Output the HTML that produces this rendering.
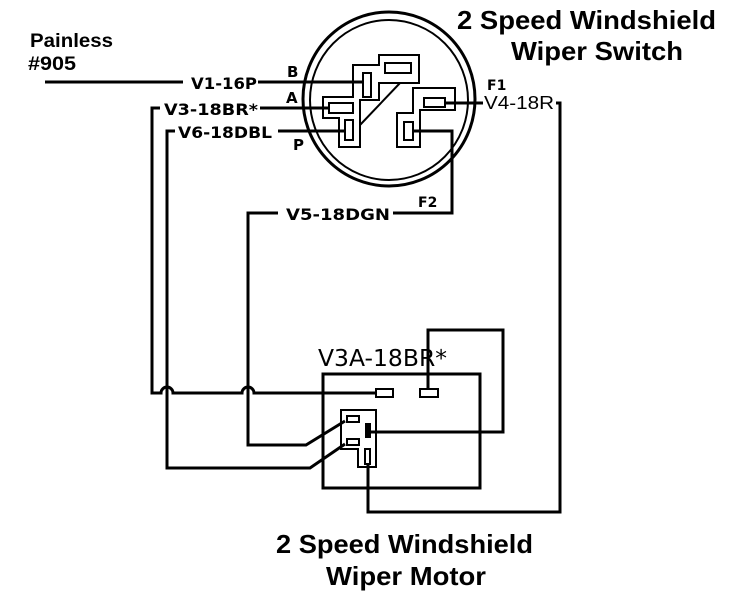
<!DOCTYPE html>
<html><head><meta charset="utf-8"><style>
html,body{margin:0;padding:0;background:#fff}
svg{display:block}
.t{font-family:"Liberation Sans",sans-serif;font-weight:bold;fill:#000}
.l{font-family:"DejaVu Sans",sans-serif;font-weight:bold;fill:#000}
</style></head><body>
<svg width="729" height="600" viewBox="0 0 729 600" xmlns="http://www.w3.org/2000/svg">
<rect width="729" height="600" fill="#fff"/>
<g fill="none" stroke="#000" stroke-width="3">
<ellipse cx="389" cy="99" rx="86" ry="87"/>
<ellipse cx="389" cy="100" rx="79" ry="80" stroke-width="2"/>
<g stroke-width="2">
<path d="M353,65 H379 V55 H419 V83 H379 V100 H360 V147 H339 V118 H323 V97 H353 Z"/>
<line x1="400" y1="83" x2="360" y2="125"/>
<rect x="363" y="73" width="8" height="24"/>
<rect x="385" y="63" width="26" height="10"/>
<rect x="329" y="103" width="24" height="10"/>
<rect x="345" y="120" width="8" height="20"/>
<path d="M413,88 H455 V110 H420 V147 H397 V113 H413 Z"/>
<rect x="424" y="98" width="21" height="9"/>
<rect x="404" y="122" width="9" height="18"/>
</g>
<line x1="45" y1="82" x2="183" y2="82"/>
<line x1="258" y1="82" x2="363" y2="82"/>
<path d="M160,108 H152 V393 H161 A6,6 0 0 1 173,393 H242 A6,6 0 0 1 254,393 H376"/>
<line x1="260" y1="108" x2="329" y2="108"/>
<line x1="278" y1="131" x2="345" y2="131"/>
<path d="M413,131 H452 V213 H393"/>
<path d="M278,213 H248 V445 H306 L345,421"/>
<path d="M175,131 H167 V468 H310 L345,444"/>
<path d="M445,103 H483"/>
<path d="M556,103 H560 V512 H368 V464"/>
<path d="M428,390 V330 H503 V432 H370"/>
<rect x="323" y="374" width="157" height="114"/>
<g stroke-width="2">
<rect x="376" y="389" width="17" height="8"/>
<rect x="420" y="389" width="18" height="8"/>
<path d="M341,410 H376 V467 H358 V449 H341 Z"/>
<rect x="347" y="416" width="12" height="6"/>
<rect x="347" y="439" width="12" height="6"/>
<rect x="365" y="449" width="5" height="15"/>
</g>
</g>
<rect x="365" y="423" width="6" height="15" fill="#000"/>
<text class="t" x="457" y="29" font-size="26" textLength="259" lengthAdjust="spacingAndGlyphs">2 Speed Windshield</text>
<text class="t" x="511" y="60" font-size="26" textLength="172" lengthAdjust="spacingAndGlyphs">Wiper Switch</text>
<text class="t" x="30" y="47" font-size="19" textLength="83" lengthAdjust="spacingAndGlyphs">Painless</text>
<text class="t" x="28" y="70" font-size="19" textLength="48" lengthAdjust="spacingAndGlyphs">#905</text>
<text class="l" x="191" y="89" font-size="16" textLength="66" lengthAdjust="spacingAndGlyphs">V1-16P</text>
<text class="l" x="164" y="115" font-size="16" textLength="94" lengthAdjust="spacingAndGlyphs">V3-18BR*</text>
<text class="l" x="178" y="138" font-size="16" textLength="94" lengthAdjust="spacingAndGlyphs">V6-18DBL</text>
<text class="l" x="286" y="220" font-size="16" textLength="104" lengthAdjust="spacingAndGlyphs">V5-18DGN</text>
<text class="l" x="287" y="77" font-size="15">B</text>
<text class="l" x="286" y="103" font-size="15">A</text>
<text class="l" x="293" y="150" font-size="15">P</text>
<text x="484" y="109" font-family="Liberation Sans,sans-serif" font-size="18" fill="#000" textLength="70" lengthAdjust="spacingAndGlyphs">V4-18R</text>
<text class="l" x="487" y="90" font-size="14">F1</text>
<text class="l" x="418" y="207" font-size="14">F2</text>
<text x="318" y="366" font-family="DejaVu Sans,sans-serif" font-size="23" fill="#000" textLength="129" lengthAdjust="spacingAndGlyphs">V3A-18BR*</text>
<text class="t" x="276" y="553" font-size="26" textLength="257" lengthAdjust="spacingAndGlyphs">2 Speed Windshield</text>
<text class="t" x="326" y="585" font-size="26" textLength="160" lengthAdjust="spacingAndGlyphs">Wiper Motor</text>
</svg>
</body></html>
